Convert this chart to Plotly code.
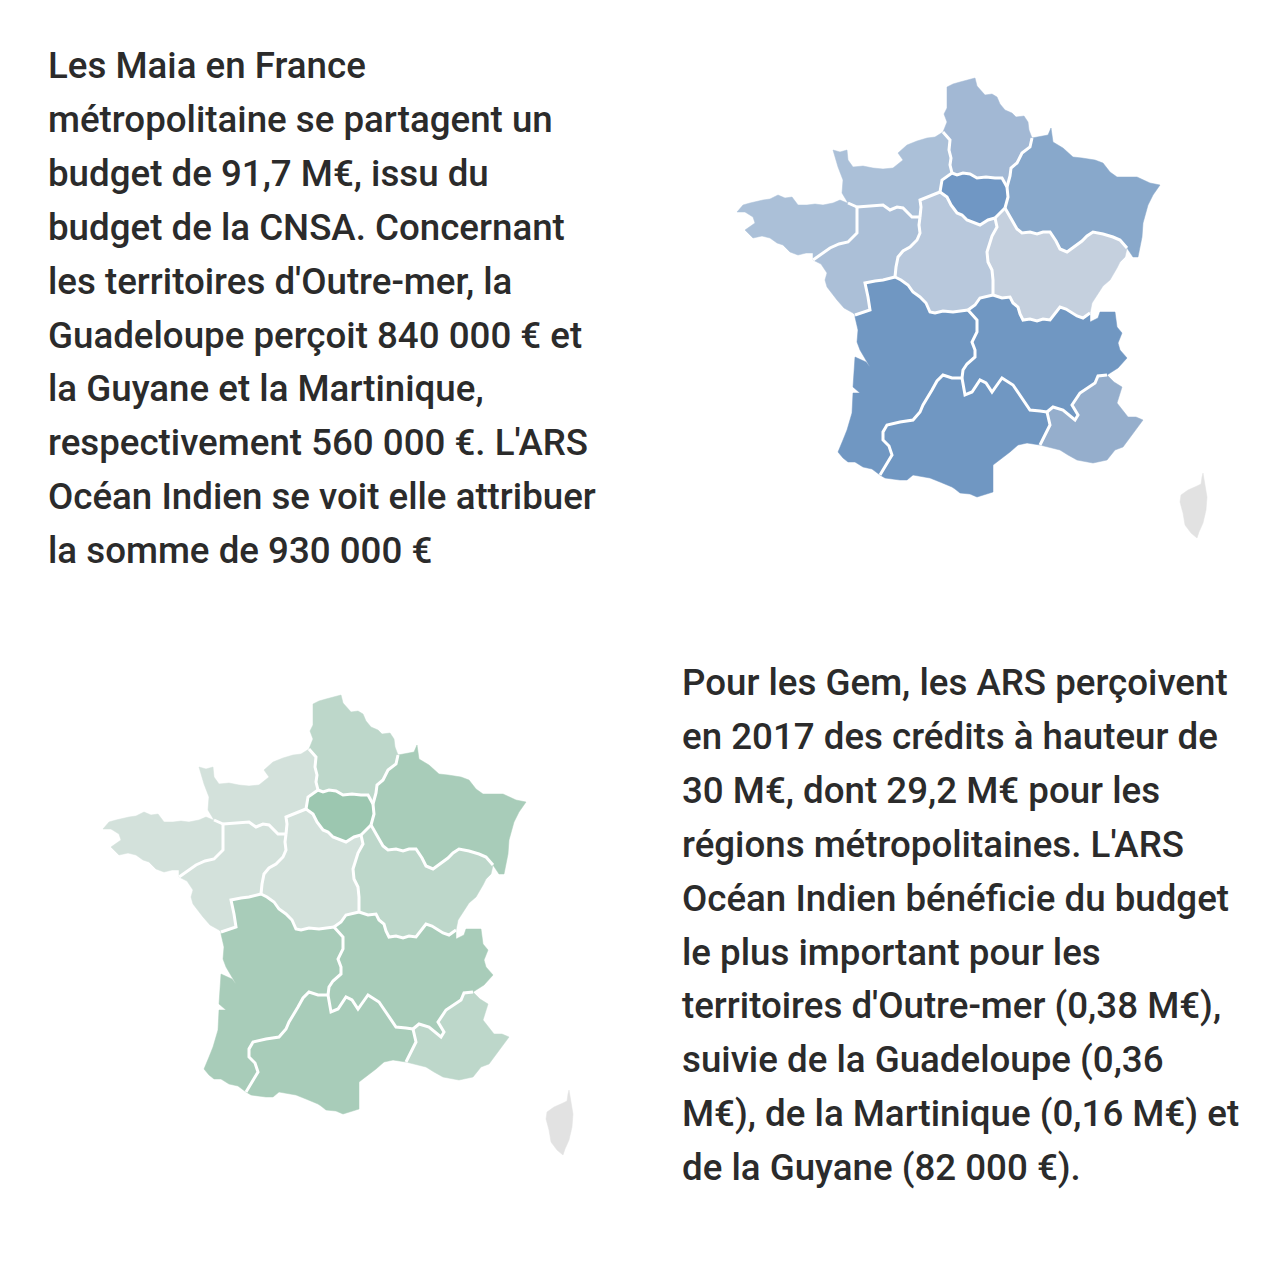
import plotly.graph_objects as go

# text blocks, one entry per line
maia_lines = [
    "Les Maia en France",
    "métropolitaine se partagent un",
    "budget de 91,7 M€, issu du",
    "budget de la CNSA. Concernant",
    "les territoires d'Outre-mer, la",
    "Guadeloupe perçoit 840 000 € et",
    "la Guyane et la Martinique,",
    "respectivement 560 000 €. L'ARS",
    "Océan Indien se voit elle attribuer",
    "la somme de 930 000 €",
]
gem_lines = [
    "Pour les Gem, les ARS perçoivent",
    "en 2017 des crédits à hauteur de",
    "30 M€, dont 29,2 M€ pour les",
    "régions métropolitaines. L'ARS",
    "Océan Indien bénéficie du budget",
    "le plus important pour les",
    "territoires d'Outre-mer (0,38 M€),",
    "suivie de la Guadeloupe (0,36",
    "M€), de la Martinique (0,16 M€) et",
    "de la Guyane (82 000 €).",
]

# region outlines. Borders are shared between regions
hdf_coast = [(943, 132), (947, 122), (944, 114), (947, 108), (947, 87), (953, 84), (960, 82), (968, 80), (975, 78),
             (977, 86), (982, 91), (985, 95), (992, 94), (997, 97), (1000, 104), (1005, 110), (1012, 113),
             (1016, 117), (1024, 116), (1028, 122), (1029, 130), (1032, 138)]
hdf_ge = [(1032, 138), (1030, 147), (1022, 153), (1017, 163), (1011, 168), (1010, 176), (1007, 187)]
hdf_idf = [(1007, 187), (1002, 178), (995, 178), (986, 177), (977, 178), (970, 174), (963, 173), (957, 175),
           (952, 173)]
hdf_nor = [(952, 173), (950, 165), (951, 158), (949, 150), (950, 140), (945, 135), (943, 132)]
nor_coast = [(943, 132), (935, 137), (927, 138), (917, 141), (907, 145), (898, 153), (903, 160), (896, 166),
             (893, 168), (883, 169), (873, 168), (863, 166), (853, 167), (848, 160), (847, 150), (840, 152),
             (833, 150), (838, 167), (843, 180), (842, 193), (848, 203)]
nor_bre = [(848, 203), (857, 207)]
nor_pdl = [(857, 207), (870, 206), (883, 205), (890, 210), (897, 207), (903, 208), (912, 217), (920, 217)]
nor_cvl = [(920, 217), (921, 207), (920, 200), (930, 196), (940, 192)]
nor_idf = [(940, 192), (942, 180), (952, 173)]
idf_ge = [(1007, 187), (1008, 197), (1005, 208)]
idf_bfc = [(1005, 208), (995, 218)]
idf_cvl = [(995, 218), (988, 220), (980, 225), (973, 222), (967, 220), (962, 215), (957, 213), (951, 205),
           (947, 197), (940, 192)]
ge_border = [(1032, 138), (1048, 135), (1051, 128), (1053, 142), (1063, 148), (1073, 157), (1082, 158), (1095, 160),
             (1103, 163), (1110, 172), (1117, 177), (1127, 177), (1137, 177), (1150, 183), (1160, 185), (1153, 195),
             (1148, 205), (1143, 223), (1142, 237), (1138, 257), (1133, 257), (1127, 248)]
ge_bfc = [(1127, 248), (1120, 240), (1113, 237), (1103, 234), (1093, 232), (1087, 236), (1082, 241), (1074, 247),
          (1067, 252), (1060, 249), (1056, 241), (1050, 232), (1043, 232), (1037, 234), (1030, 232), (1022, 233),
          (1017, 229), (1013, 222), (1005, 208)]
bfc_east = [(1127, 248), (1125, 257), (1120, 262), (1117, 268), (1110, 280), (1103, 286), (1097, 295), (1092, 303),
            (1090, 313)]
bfc_ara = [(1090, 313), (1083, 318), (1077, 316), (1072, 313), (1066, 309), (1060, 307), (1055, 314), (1050, 320),
           (1043, 319), (1037, 321), (1030, 319), (1023, 320), (1020, 314), (1018, 307), (1013, 303), (1010, 297),
           (1002, 298), (993, 295)]
cvl_bfc = [(995, 218), (997, 227), (992, 236), (990, 243), (987, 252), (988, 262), (992, 270), (993, 280), (993, 295)]
cvl_ara = [(993, 295), (980, 298), (975, 305), (968, 310)]
cvl_na = [(968, 310), (953, 312), (943, 311), (935, 313), (930, 312), (926, 303), (920, 297), (913, 292), (908, 285),
          (901, 280), (895, 277)]
cvl_pdl = [(895, 277), (896, 267), (898, 257), (903, 251), (910, 247), (917, 240), (920, 233), (919, 225), (920, 217)]
pdl_bre = [(857, 207), (857, 225), (857, 233), (848, 242), (839, 244), (830, 248), (813, 260)]
pdl_coast = [(813, 260), (821, 264), (827, 273), (825, 280), (827, 287), (837, 300), (844, 308), (853, 313), (855, 315)]
pdl_na = [(855, 315), (863, 312), (870, 310), (868, 297), (865, 283), (875, 281), (883, 280), (895, 277)]
bre_coast = [(848, 203), (840, 200), (833, 203), (823, 205), (815, 204), (807, 205), (798, 205), (792, 197), (785, 198),
             (778, 195), (770, 199), (763, 200), (750, 203), (743, 205), (737, 212), (745, 212), (753, 217), (755, 223),
             (745, 230), (753, 238), (762, 236), (770, 238), (777, 243), (783, 245), (790, 252), (798, 255), (806, 253),
             (813, 253), (813, 260)]
na_ara = [(968, 310), (977, 320), (977, 332), (972, 342), (975, 350), (975, 357), (967, 364), (963, 370), (962, 378)]
na_occ = [(962, 378), (952, 378), (943, 375), (937, 381), (932, 390), (927, 398), (923, 405), (920, 412), (913, 420),
          (900, 422), (887, 425), (883, 432), (883, 440), (889, 446), (892, 455), (886, 465), (880, 475)]
na_coast = [(880, 475), (872, 469), (863, 467), (855, 462), (848, 462), (843, 458), (838, 452), (843, 440), (847, 430),
            (852, 413), (853, 393), (860, 393), (853, 387), (855, 357), (866, 362), (870, 367), (860, 350), (857, 342),
            (858, 330), (855, 317)]
ara_occ = [(962, 378), (965, 395), (972, 392), (980, 380), (986, 383), (992, 392), (997, 385), (1002, 378), (1013, 385),
           (1018, 392), (1022, 398), (1030, 410), (1040, 411), (1047, 412)]
ara_paca = [(1047, 412), (1053, 407), (1063, 410), (1075, 420), (1078, 415), (1072, 405), (1080, 393), (1095, 383),
            (1098, 376), (1107, 375)]
ara_east = [(1107, 375), (1118, 368), (1127, 358), (1120, 350), (1118, 343), (1122, 333), (1117, 327), (1115, 312),
            (1100, 312), (1098, 318), (1090, 322), (1090, 313)]
paca_coast = [(1107, 375), (1114, 382), (1122, 387), (1117, 403), (1128, 417), (1136, 417), (1143, 420), (1133, 433),
              (1123, 447), (1115, 450), (1107, 460), (1093, 463), (1077, 460), (1068, 455), (1060, 450), (1048, 447),
              (1040, 445)]
occ_paca = [(1040, 445), (1045, 435), (1050, 425), (1047, 412)]
occ_coast = [(1040, 445), (1027, 443), (1018, 445), (1010, 452), (993, 465), (993, 492), (977, 497), (970, 494),
             (960, 493), (955, 489), (952, 487), (940, 482), (930, 478), (913, 475), (907, 480), (900, 480),
             (885, 478), (880, 475)]
corsica = [(1203, 473), (1205, 487), (1207, 497), (1206, 510), (1203, 523), (1199, 532), (1197, 538), (1191, 533),
           (1185, 525), (1183, 513), (1180, 502), (1181, 495), (1188, 490), (1197, 486), (1201, 484), (1202, 477)]


def rev(seg):
    return seg[::-1]


regions = [
    hdf_coast + hdf_ge + hdf_idf + hdf_nor,
    nor_coast + nor_bre + nor_pdl + nor_cvl + nor_idf + hdf_nor,
    rev(hdf_idf) + idf_ge + idf_bfc + idf_cvl + nor_idf,
    ge_border + ge_bfc + rev(idf_ge) + rev(hdf_ge),
    rev(ge_bfc) + bfc_east + bfc_ara + rev(cvl_bfc) + rev(idf_bfc),
    rev(nor_cvl) + rev(cvl_pdl) + rev(cvl_na) + rev(cvl_ara) + rev(cvl_bfc) + idf_cvl,
    rev(nor_bre) + bre_coast + rev(pdl_bre),
    nor_pdl + rev(cvl_pdl) + rev(pdl_na) + rev(pdl_coast) + rev(pdl_bre),
    pdl_na + rev(cvl_na) + na_ara + na_occ + na_coast,
    rev(cvl_ara) + rev(bfc_ara) + rev(ara_east) + rev(ara_paca) + rev(ara_occ) + rev(na_ara),
    rev(na_occ) + ara_occ + rev(occ_paca) + occ_coast,
    paca_coast + occ_paca + ara_paca,
]
inner_borders = [hdf_ge, hdf_idf, hdf_nor, nor_bre, nor_pdl, nor_cvl, nor_idf, idf_ge, idf_bfc, idf_cvl, ge_bfc, bfc_ara,
                 cvl_bfc, cvl_ara, cvl_na, cvl_pdl, pdl_bre, pdl_na, na_ara, na_occ, ara_occ, ara_paca, occ_paca]

# same order as regions: HDF, NOR, IDF, GE, BFC, CVL, BRE, PDL, NA, ARA, OCC, PACA
maia_colors = ["#a2b8d4", "#abc0d8", "#7097c4", "#88a8cb", "#c5d0de", "#b8c8dc",
               "#abc0d8", "#abbfd7", "#7097c2", "#7097c2", "#7097c2", "#95aecc"]
gem_colors = ["#bdd7ca", "#d3e1db", "#9cc7b0", "#a8ccb9", "#bdd7ca", "#d3e1db",
              "#d3e1db", "#d3e1db", "#a8ccb9", "#a8ccb9", "#a8ccb9", "#bdd7ca"]
corsica_color = "#e2e2e2"
text_color = "#2b2b2b"

fig = go.Figure()


def add_map(colors, dx, dy):
    for outline, color in zip(regions + [corsica], colors + [corsica_color]):
        fig.add_trace(go.Scatter(
            x=[p[0] + dx for p in outline] + [outline[0][0] + dx],
            y=[p[1] + dy for p in outline] + [outline[0][1] + dy],
            mode='lines',
            fill='toself',
            fillcolor=color,
            line=dict(color=color, width=0.5),
            hoverinfo='skip',
            showlegend=False,
        ))
    # white lines only between regions, the coast stays bare
    for seg in inner_borders:
        fig.add_trace(go.Scatter(
            x=[p[0] + dx for p in seg],
            y=[p[1] + dy for p in seg],
            mode='lines',
            line=dict(color='white', width=3),
            hoverinfo='skip',
            showlegend=False,
        ))


add_map(maia_colors, 0, 0)
add_map(gem_colors, -634, 617)


def add_text(lines, x, y0):
    for i, line in enumerate(lines):
        fig.add_annotation(
            x=x, y=y0 + i * 53.9,
            xref='x', yref='y',
            text=line,
            showarrow=False,
            xanchor='left',
            yanchor='middle',
            borderpad=0,
            font=dict(family='Roboto', size=36.7, color=text_color, weight=500),
        )


add_text(maia_lines, 46.5, 65.5)
add_text(gem_lines, 680.5, 682.5)

fig.update_layout(
    width=1280,
    height=1280,
    margin=dict(l=0, r=0, t=0, b=0),
    paper_bgcolor='white',
    plot_bgcolor='white',
    xaxis=dict(range=[0, 1280], visible=False, fixedrange=True),
    yaxis=dict(range=[1280, 0], visible=False, fixedrange=True),
)

fig.write_html("out.html", config={'displayModeBar': False}, post_script="document.body.style.margin='0';")
